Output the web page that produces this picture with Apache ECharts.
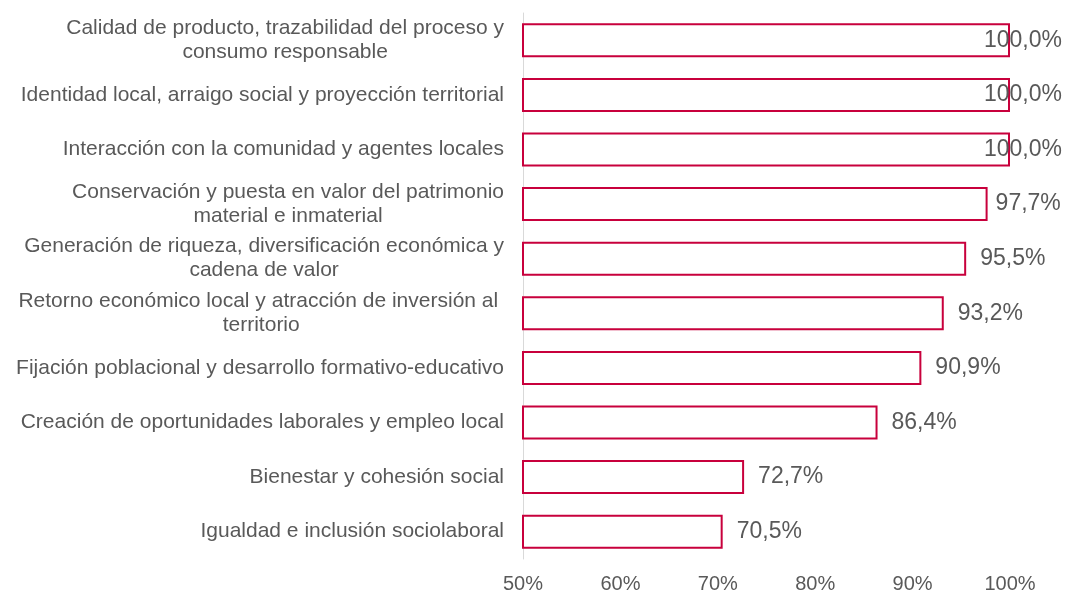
<!DOCTYPE html>
<html>
<head>
<meta charset="utf-8">
<script src="https://cdn.jsdelivr.net/npm/echarts@6/dist/echarts.min.js"></script>
<style>
  html, body { margin: 0; padding: 0; background: #fff; }
  #chart { width: 1067px; height: 594px; }
</style>
</head>
<body>
<div id="chart"></div>
<script>
// categories, top to bottom
const categories = [
  'Calidad de producto, trazabilidad del proceso y\nconsumo responsable',
  'Identidad local, arraigo social y proyección territorial',
  'Interacción con la comunidad y agentes locales',
  'Conservación y puesta en valor del patrimonio\nmaterial e inmaterial',
  'Generación de riqueza, diversificación económica y\ncadena de valor',
  'Retorno económico local y atracción de inversión al \nterritorio',
  'Fijación poblacional y desarrollo formativo-educativo',
  'Creación de oportunidades laborales y empleo local',
  'Bienestar y cohesión social',
  'Igualdad e inclusión sociolaboral'
];
const values = [100.0, 100.0, 100.0, 97.7, 95.5, 93.2, 90.9, 86.4, 72.7, 70.5];
const axisTicks = [50, 60, 70, 80, 90, 100];
// labels near the right edge get pulled back so they fit
const labelShift = [-40, -40, -40, -6, 0, 0, 0, 0, 0, 0];

const textColor = '#595959';
const barColor = '#C8003C';
const font = 'Arial';
const catFontSize = 21;

// wrapped labels are centred line by line, but the block stays right-aligned
const ctx = document.createElement('canvas').getContext('2d');
ctx.font = catFontSize + 'px ' + font;
const categoryItems = categories.map(c => {
  const lines = c.split('\n');
  if (lines.length < 2) return c;
  const w = Math.max(...lines.map(l => ctx.measureText(l).width));
  return { value: c, textStyle: { align: 'center', padding: [0, w, 0, 0] } };
});

let chart = echarts.init(document.getElementById('chart'));

const seriesData = values.map((v, i) => {
  const item = { value: v };
  if (labelShift[i]) item.label = { offset: [labelShift[i], 0] };
  return item;
});

chart.setOption({
  animation: false,
  grid: { left: 523, right: 57, top: 13, bottom: 35 },
  xAxis: {
    type: 'value',
    min: axisTicks[0],
    max: axisTicks[axisTicks.length - 1],
    interval: 10,
    axisLine: { show: false },
    axisTick: { show: false },
    splitLine: { show: false },
    axisLabel: {
      color: textColor,
      fontSize: 20,
      fontFamily: font,
      margin: 15,
      formatter: v => v + '%'
    }
  },
  yAxis: {
    type: 'category',
    data: categoryItems,
    inverse: true,
    axisLine: { show: true, lineStyle: { color: '#D9D9D9', width: 1 } },
    axisTick: { show: false },
    axisLabel: {
      color: textColor,
      fontSize: catFontSize,
      fontFamily: font,
      margin: 19,
      lineHeight: 24,
      align: 'right'
    }
  },
  series: [{
    type: 'bar',
    data: seriesData,
    barWidth: 34,
    itemStyle: { color: '#fff', borderColor: barColor, borderWidth: 2 },
    label: {
      show: true,
      position: 'right',
      distance: 14,
      color: textColor,
      fontSize: 23,
      fontFamily: font,
      formatter: p => p.value.toFixed(1).replace('.', ',') + '%'
    }
  }]
});
</script>
</body>
</html>
